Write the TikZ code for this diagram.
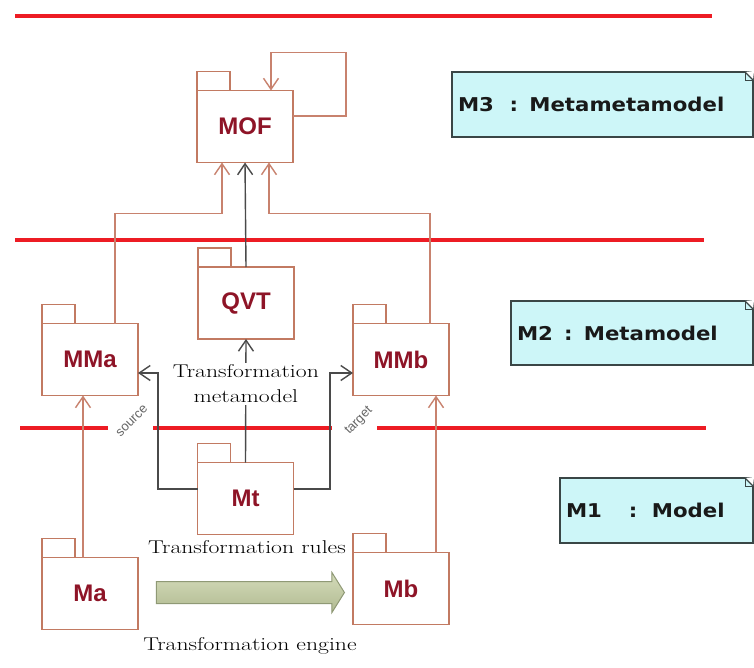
\documentclass[tikz,border=0pt]{standalone}
\usepackage{fontspec}
\usetikzlibrary{arrows.meta,shapes.arrows}

\newfontfamily\pkgfont{Liberation Sans}
\newfontfamily\notefont{DejaVu Sans}
\newfontfamily\lblfont{Liberation Sans}
\newcommand\stretchtext[1]{\scalebox{1.28}[1]{#1}}
\newcommand\notetext[1]{\scalebox{1.12}[1]{#1}}

\definecolor{levelred}{HTML}{ED1C24}
\definecolor{pkgline}{HTML}{C27A62}
\definecolor{pkgtext}{HTML}{8E1427}
\definecolor{linkorange}{HTML}{C8826E}
\definecolor{linkgrey}{HTML}{4A4A4A}
\definecolor{notefill}{HTML}{CDF6F8}
\definecolor{noteline}{HTML}{3A4646}
\definecolor{enginefill}{HTML}{C5CFA2}
\definecolor{engineline}{HTML}{8F9975}

\tikzset{
  level/.style={levelred, line width=3.5pt},
  pkg/.style={draw=pkgline, line width=1.4pt, fill=white, outer sep=0pt,
    minimum width=96pt, minimum height=72pt, inner sep=0pt,
    text=pkgtext, font=\pkgfont\bfseries\fontsize{24}{28}\selectfont},
  pkgtab/.style={draw=pkgline, line width=1.4pt, fill=white},
  oarrow/.style={linkorange, line width=1.4pt,
    -{Straight Barb[length=11pt,width=15pt]}},
  garrow/.style={linkgrey, line width=1.4pt,
    -{Straight Barb[length=11pt,width=15pt]}},
  note/.style={draw=noteline, line width=1.2pt, fill=notefill, outer sep=0pt,
    anchor=north west, align=left, inner xsep=6pt, inner ysep=0pt,
    text=black!90, font=\notefont\bfseries\fontsize{19}{22}\selectfont},
  serif/.style={font=\fontsize{18.5}{25}\selectfont, text=black},
  role/.style={font=\lblfont\fontsize{13}{15}\selectfont, text=black!60,
    rotate=45, inner sep=0pt},
}

\begin{document}
\begin{tikzpicture}[x=1pt,y=1pt]
\useasboundingbox (0,0) rectangle (754,-668);
\fill[white] (0,0) rectangle (754,-668);

% level separators
\draw[level] (15,-16) -- (712,-16);
\draw[level] (15,-240) -- (704,-240);
\draw[level] (20,-428) -- (108,-428);
\draw[level] (153,-428) -- (332,-428);
\draw[level] (377,-428) -- (706,-428);

% packages
\node[pkg] (MOF) at (245,-126.5) {MOF};
\node[pkg] (QVT) at (246,-303) {QVT};
\node[pkg] (MMa) at (90,-359.5) {MMa};
\node[pkg] (MMb) at (401,-359.5) {MMb};
\node[pkg] (Mt)  at (245.5,-498.5) {Mt};
\node[pkg] (Ma)  at (90,-593.5) {Ma};
\node[pkg] (Mb)  at (401,-588.5) {Mb};
\foreach \p in {MOF,QVT,MMa,MMb,Mt,Ma,Mb}
  \draw[pkgtab] (\p.north west) rectangle ++(33,19);

% metamodels conform to MOF
\draw[oarrow] ([xshift=25pt]MMa.north) |- ([xshift=-23pt,yshift=-51pt]MOF.south)
  -- ([xshift=-23pt]MOF.south);
\draw[oarrow] ([xshift=29pt]MMb.north) |- ([xshift=24pt,yshift=-51pt]MOF.south)
  -- ([xshift=24pt]MOF.south);
\draw[garrow] (QVT.north) -- (MOF.south);
% MOF conforms to itself
\draw[oarrow] ([yshift=10.5pt]MOF.east) -- ++(53,0)
  |- ([xshift=26pt,yshift=38pt]MOF.north) -- ([xshift=26pt]MOF.north);

% transformation rules
\draw[garrow] (Mt.north) -- node[pos=0.637, fill=white, inner sep=2pt, align=center, serif]
  {\stretchtext{Transformation}\\\stretchtext{metamodel}} (QVT.south);
\draw[garrow] ([yshift=9.5pt]Mt.west) -| node[pos=0.793, xshift=-26pt, role] {source}
  ([xshift=20pt,yshift=-13.5pt]MMa.east) -- ([yshift=-13.5pt]MMa.east);
\draw[garrow] ([yshift=9.5pt]Mt.east) -| node[pos=0.793, xshift=29pt, role] {target}
  ([xshift=-23pt,yshift=-13.5pt]MMb.west) -- ([yshift=-13.5pt]MMb.west);
\node[serif, anchor=base] (rules) at ([xshift=1.5pt,yshift=-54.5pt]Mt.center)
  {\stretchtext{Transformation rules}};

% models conform to metamodels
\draw[oarrow] ([xshift=-7pt]Ma.north) -- ([xshift=-7pt]MMa.south);
\draw[oarrow] ([xshift=35pt]Mb.north) -- ([xshift=35pt]MMb.south);

% transformation engine
\node[single arrow, draw=engineline, line width=1pt, top color=enginefill!75!white,
  bottom color=enginefill!90!black, minimum height=188pt, inner ysep=10.5pt,
  inner xsep=0pt, single arrow head extend=9pt, single arrow tip angle=116]
  (engine) at (247,-592.5) {};
\node[serif, anchor=base] (enginelbl) at ([xshift=3pt,yshift=-57.5pt]engine.center)
  {\stretchtext{Transformation engine}};

% level notes
\node[note, minimum width=301pt, text width=289pt, minimum height=65pt] (M3) at (452,-72)
  {\notetext{M3\hspace{14pt}:\hspace{10pt}Metametamodel}};
\node[note, minimum width=242pt, text width=230pt, minimum height=64pt] (M2) at (511,-301)
  {\notetext{M2\hspace{10pt}:\hspace{10pt}Metamodel}};
\node[note, minimum width=193pt, text width=181pt, minimum height=65pt] (M1) at (560,-478)
  {\notetext{M1\hspace{24pt}:\hspace{13pt}Model}};
\foreach \n in {M3,M2,M1} {
  \fill[white] ([xshift=-8pt]\n.north east) -- ([xshift=1pt,yshift=1pt]\n.north east)
    -- ([yshift=-8pt]\n.north east) -- cycle;
  \draw[noteline, line width=1.2pt] ([xshift=-8pt]\n.north east)
    -- ([yshift=-8pt]\n.north east);
  \draw[noteline, line width=0.8pt] ([xshift=-8pt]\n.north east) -- ++(0,-8)
    -- ([yshift=-8pt]\n.north east);
}
\end{tikzpicture}
\end{document}
